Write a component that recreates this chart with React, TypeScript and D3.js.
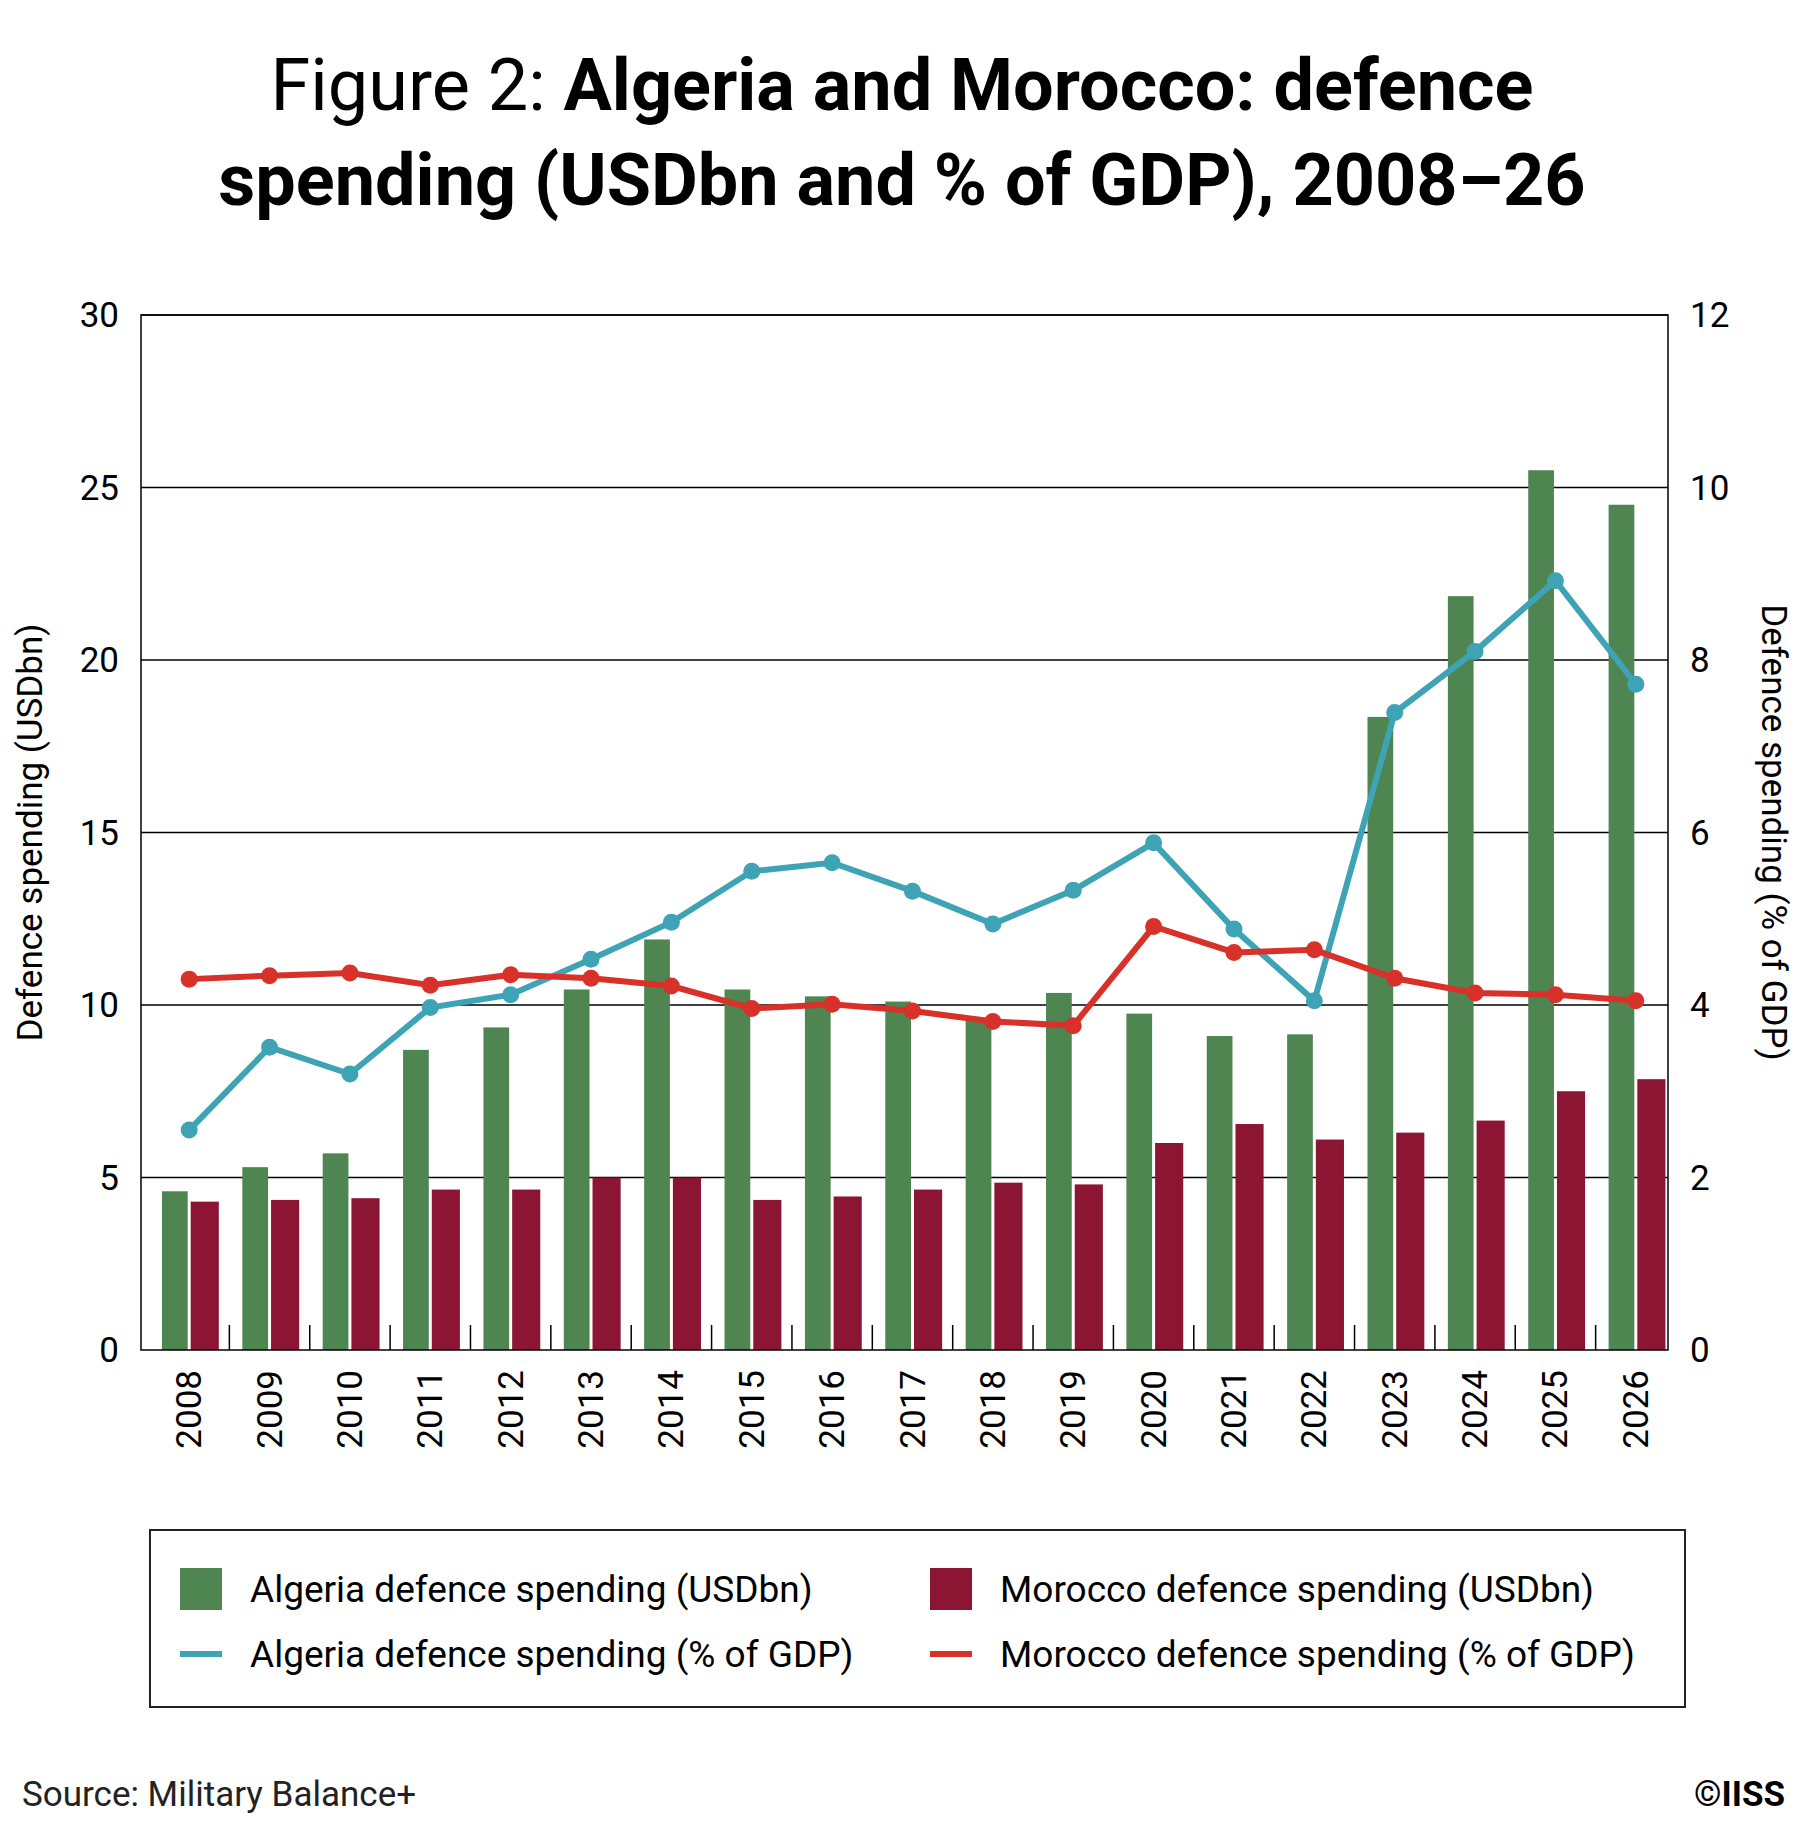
import * as d3 from "d3";

const years = ["2008","2009","2010","2011","2012","2013","2014","2015","2016","2017","2018","2019","2020","2021","2022","2023","2024","2025","2026"];
const algeriaUsd = [4.6,5.3,5.7,8.7,9.35,10.45,11.9,10.45,10.25,10.1,9.6,10.35,9.75,9.1,9.15,18.35,21.85,25.5,24.5];
const moroccoUsd = [4.3,4.35,4.4,4.65,4.65,5.0,5.0,4.35,4.45,4.65,4.85,4.8,6.0,6.55,6.1,6.3,6.65,7.5,7.85];
const algeriaGdp = [2.55,3.51,3.2,3.97,4.12,4.53,4.96,5.55,5.65,5.32,4.94,5.33,5.88,4.88,4.05,7.39,8.1,8.92,7.72];
const moroccoGdp = [4.3,4.34,4.37,4.23,4.35,4.31,4.22,3.96,4.01,3.93,3.81,3.76,4.91,4.61,4.64,4.31,4.14,4.12,4.05];
const leftTicks = [0,5,10,15,20,25,30];
const rightTicks = [0,2,4,6,8,10,12];

const GREEN = "#4e8550", MAROON = "#8b1533", TEAL = "#3ea3b5", RED = "#d8312a";
const FONT = "'Liberation Sans Narrow', 'Roboto', sans-serif";

export default function App() {
  const W = 1804, H = 1833;
  const L = 141, R = 1668, T = 315, B = 1350;
  const x = d3.scaleBand().domain(years).range([L, R]);
  const yL = d3.scaleLinear().domain([0, 30]).range([B, T]);
  const yR = d3.scaleLinear().domain([0, 12]).range([B, T]);
  const bw = x.bandwidth();
  const gw = bw * 0.32, mw = bw * 0.35;
  const cx = (y: string) => (x(y) as number) + bw / 2;
  const bc = (y: string) => cx(y) + 8;
  const line = (vals: number[]) =>
    d3.line<number>().x((_, i) => bc(years[i])).y((v) => yR(v))(vals) as string;

  return (
    <svg width={W} height={H} style={{ display: "block", margin: "-8px" }} fontFamily={FONT}>
      <rect width={W} height={H} fill="#fff" />
      <text x={W / 2} y={110} textAnchor="middle" fontSize={72}>
        <tspan>Figure 2: </tspan>
        <tspan fontWeight="bold">Algeria and Morocco: defence</tspan>
      </text>
      <text x={W / 2} y={205} textAnchor="middle" fontSize={72} fontWeight="bold">
        spending (USDbn and % of GDP), 2008–26
      </text>

      {leftTicks.map((t) => (
        <g key={t}>
          {t > 0 && <line x1={L} x2={R} y1={yL(t)} y2={yL(t)} stroke="#000" strokeWidth={1.5} />}
          <text x={L - 22} y={yL(t) + 12} textAnchor="end" fontSize={35}>{t}</text>
        </g>
      ))}
      {rightTicks.map((t) => (
        <text key={t} x={R + 22} y={yR(t) + 12} fontSize={35}>{t}</text>
      ))}

      {years.map((y, i) => (
        <g key={y}>
          <rect x={bc(y) - gw - 1.5} y={yL(algeriaUsd[i])} width={gw} height={B - yL(algeriaUsd[i])} fill={GREEN} />
          <rect x={bc(y) + 1.5} y={yL(moroccoUsd[i])} width={mw} height={B - yL(moroccoUsd[i])} fill={MAROON} />
          {i > 0 && <line x1={(x(y) as number) + 8} x2={(x(y) as number) + 8} y1={B} y2={B - 25} stroke="#000" strokeWidth={1.5} />}
          <text transform={`translate(${bc(y) + 12},${B + 20}) rotate(-90)`} textAnchor="end" fontSize={35}>{y}</text>
        </g>
      ))}

      <rect x={L} y={T} width={R - L} height={B - T} fill="none" stroke="#000" strokeWidth={1.5} />

      <path d={line(algeriaGdp)} fill="none" stroke={TEAL} strokeWidth={6} />
      {algeriaGdp.map((v, i) => <circle key={i} cx={bc(years[i])} cy={yR(v)} r={8.5} fill={TEAL} />)}
      <path d={line(moroccoGdp)} fill="none" stroke={RED} strokeWidth={6} />
      {moroccoGdp.map((v, i) => <circle key={i} cx={bc(years[i])} cy={yR(v)} r={8.5} fill={RED} />)}

      <text transform={`translate(42,${(T + B) / 2}) rotate(-90)`} textAnchor="middle" fontSize={35}>Defence spending (USDbn)</text>
      <text transform={`translate(1762,${(T + B) / 2}) rotate(90)`} textAnchor="middle" fontSize={35}>Defence spending (% of GDP)</text>

      <rect x={150} y={1530} width={1535} height={177} fill="none" stroke="#222" strokeWidth={2} />
      <rect x={180} y={1568} width={42} height={42} fill={GREEN} />
      <text x={250} y={1602} fontSize={37}>Algeria defence spending (USDbn)</text>
      <line x1={180} x2={222} y1={1654} y2={1654} stroke={TEAL} strokeWidth={6} />
      <text x={250} y={1667} fontSize={37}>Algeria defence spending (% of GDP)</text>
      <rect x={930} y={1568} width={42} height={42} fill={MAROON} />
      <text x={1000} y={1602} fontSize={37}>Morocco defence spending (USDbn)</text>
      <line x1={930} x2={972} y1={1654} y2={1654} stroke={RED} strokeWidth={6} />
      <text x={1000} y={1667} fontSize={37}>Morocco defence spending (% of GDP)</text>

      <text x={22} y={1806} fontSize={35} fill="#222">Source: Military Balance+</text>
      <text x={1785} y={1806} fontSize={35} fontWeight="bold" textAnchor="end">©IISS</text>
    </svg>
  );
}
